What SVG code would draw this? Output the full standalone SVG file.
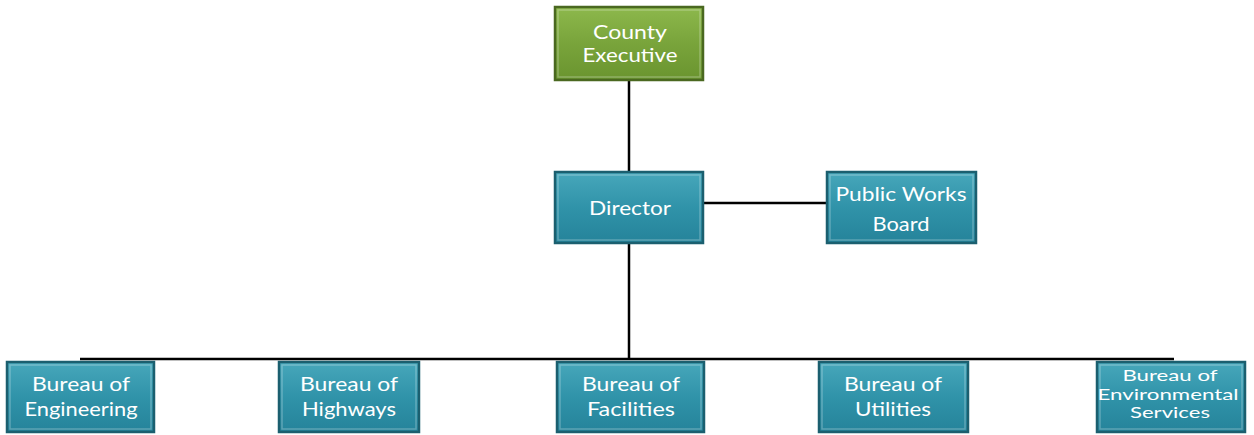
<svg xmlns="http://www.w3.org/2000/svg" width="1254" height="435" viewBox="0 0 1254 435">
<defs>
<linearGradient id="gTeal" x1="0" y1="0" x2="0" y2="1">
<stop offset="0" stop-color="#47a7bb"/>
<stop offset="0.5" stop-color="#3093a9"/>
<stop offset="1" stop-color="#25839a"/>
</linearGradient>
<linearGradient id="gGreen" x1="0" y1="0" x2="0" y2="1">
<stop offset="0" stop-color="#8db84c"/>
<stop offset="0.5" stop-color="#79a43b"/>
<stop offset="1" stop-color="#6a942f"/>
</linearGradient>
</defs>
<style>
.teal{fill:url(#gTeal);stroke:#1b5f6f;stroke-width:2.5}
.green{fill:url(#gGreen);stroke:#4a6820;stroke-width:2.5}
.hl{fill:none;stroke:#ffffff;stroke-opacity:0.25;stroke-width:1.5}
text{font-family:Lato,"Open Sans","DejaVu Sans",sans-serif;fill:#ffffff;font-size:20px;text-anchor:middle}
.sm{font-size:15px}
.conn{stroke:#000000;stroke-width:2.5;fill:none}
</style>
<rect width="1254" height="435" fill="#ffffff"/>
<g id="connectors">
<line class="conn" x1="629" y1="80" x2="629" y2="172"/>
<line class="conn" x1="703" y1="203" x2="827" y2="203"/>
<line class="conn" x1="629" y1="243" x2="629" y2="359"/>
<line class="conn" x1="80" y1="359" x2="1174" y2="359"/>
</g>
<g id="county-executive">
<rect class="green" x="555" y="7" width="148" height="73"/>
<rect class="hl" x="558" y="10" width="142" height="67"/>
<text x="630" y="39" textLength="74" lengthAdjust="spacingAndGlyphs">County</text>
<text x="630" y="62" textLength="95" lengthAdjust="spacingAndGlyphs">Executive</text>
</g>
<g id="director">
<rect class="teal" x="555" y="172" width="148" height="71"/>
<rect class="hl" x="558" y="175" width="142" height="65"/>
<text x="630" y="215" textLength="82" lengthAdjust="spacingAndGlyphs">Director</text>
</g>
<g id="public-works-board">
<rect class="teal" x="827" y="172" width="149" height="71"/>
<rect class="hl" x="830" y="175" width="143" height="65"/>
<text x="901" y="201" textLength="131" lengthAdjust="spacingAndGlyphs">Public Works</text>
<text x="901" y="231" textLength="57" lengthAdjust="spacingAndGlyphs">Board</text>
</g>
<g id="bureau-engineering">
<rect class="teal" x="7" y="362" width="147" height="70"/>
<rect class="hl" x="10" y="365" width="141" height="64"/>
<text x="81" y="391" textLength="98" lengthAdjust="spacingAndGlyphs">Bureau of</text>
<text x="81" y="416" textLength="113" lengthAdjust="spacingAndGlyphs">Engineering</text>
</g>
<g id="bureau-highways">
<rect class="teal" x="279" y="362" width="140" height="70"/>
<rect class="hl" x="282" y="365" width="134" height="64"/>
<text x="349" y="391" textLength="98" lengthAdjust="spacingAndGlyphs">Bureau of</text>
<text x="349" y="416" textLength="94" lengthAdjust="spacingAndGlyphs">Highways</text>
</g>
<g id="bureau-facilities">
<rect class="teal" x="557" y="362" width="147" height="70"/>
<rect class="hl" x="560" y="365" width="141" height="64"/>
<text x="631" y="391" textLength="98" lengthAdjust="spacingAndGlyphs">Bureau of</text>
<text x="631" y="416" textLength="88" lengthAdjust="spacingAndGlyphs">Facilities</text>
</g>
<g id="bureau-utilities">
<rect class="teal" x="819" y="362" width="149" height="70"/>
<rect class="hl" x="822" y="365" width="143" height="64"/>
<text x="893" y="391" textLength="98" lengthAdjust="spacingAndGlyphs">Bureau of</text>
<text x="893" y="416" textLength="76" lengthAdjust="spacingAndGlyphs">Utilities</text>
</g>
<g id="bureau-environmental">
<rect class="teal" x="1097" y="362" width="148" height="70"/>
<rect class="hl" x="1100" y="365" width="142" height="64"/>
<text class="sm" x="1170" y="381" textLength="95" lengthAdjust="spacingAndGlyphs">Bureau of</text>
<text class="sm" x="1168" y="400" textLength="141" lengthAdjust="spacingAndGlyphs">Environmental</text>
<text class="sm" x="1170" y="418" textLength="80" lengthAdjust="spacingAndGlyphs">Services</text>
</g>
</svg>
